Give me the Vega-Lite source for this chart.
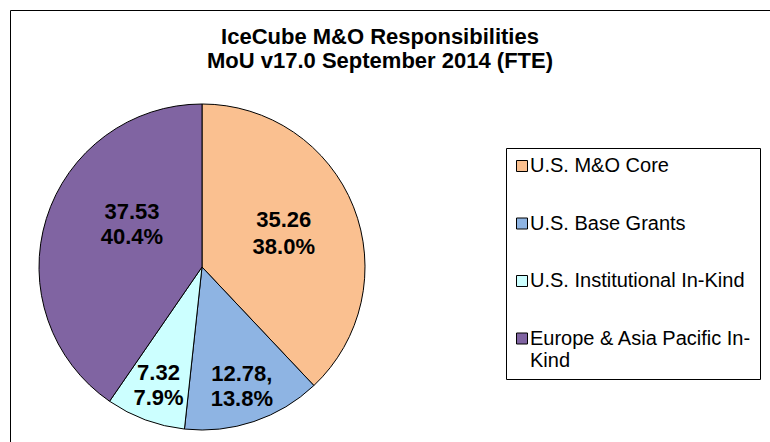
{
  "$schema": "https://vega.github.io/schema/vega-lite/v6.json",
  "width": 760,
  "height": 432,
  "autosize": {"type": "none"},
  "padding": {"left": 10, "top": 10, "right": 0, "bottom": 0},
  "background": "white",
  "view": {"stroke": "#000000", "strokeWidth": 1, "fill": "white"},
  "title": {
    "text": ["IceCube M&O Responsibilities", "MoU v17.0 September 2014 (FTE)"],
    "font": "Liberation Sans",
    "fontSize": 22,
    "fontWeight": "bold",
    "color": "#000000",
    "lineHeight": 24,
    "anchor": "middle",
    "frame": "group",
    "offset": 0,
    "dx": -10,
    "dy": 63
  },
  "config": {
    "view": {"stroke": "#000000", "strokeWidth": 1},
    "style": {"view": {"stroke": "#000000", "strokeWidth": 1}},
    "font": "Liberation Sans"
  },
  "data": {
    "values": [
      {"source": "U.S. M&O Core", "fte": 35.26, "label": "35.26\n38.0%", "i": 1},
      {"source": "U.S. Base Grants", "fte": 12.78, "label": "12.78,\n13.8%", "i": 2},
      {"source": "U.S. Institutional In-Kind", "fte": 7.32, "label": "7.32\n7.9%", "i": 3},
      {"source": "Europe & Asia Pacific In-Kind", "fte": 37.53, "label": "37.53\n40.4%", "i": 4}
    ]
  },
  "encoding": {
    "theta": {"field": "fte", "type": "quantitative", "stack": true},
    "order": {"field": "i", "type": "quantitative"}
  },
  "layer": [
    {
      "mark": {"type": "arc", "radius": 163, "x": 192, "y": 257, "stroke": "#000000", "strokeWidth": 1},
      "encoding": {
        "color": {
          "field": "source",
          "type": "nominal",
          "scale": {
            "domain": ["U.S. M&O Core", "U.S. Base Grants", "U.S. Institutional In-Kind", "Europe & Asia Pacific In-Kind"],
            "range": ["#FAC090", "#8EB4E3", "#CCFFFF", "#8064A2"]
          },
          "legend": {
            "orient": "none",
            "legendX": 496,
            "legendY": 138,
            "title": null,
            "strokeColor": "#000000",
            "padding": 8,
            "labelFont": "Liberation Sans",
            "labelFontSize": 20,
            "labelColor": "#000000",
            "labelLimit": 400,
            "labelOffset": -2,
            "symbolOffset": -2,
            "symbolType": "square",
            "symbolSize": 121,
            "symbolStrokeColor": "#000000",
            "symbolStrokeWidth": 1,
            "rowPadding": 37.5,
            "labelExpr": "datum.label == 'Europe & Asia Pacific In-Kind' ? ['Europe & Asia Pacific In-', 'Kind'] : datum.label"
          }
        }
      }
    },
    {
      "mark": {"type": "text", "radius": 88, "x": 192, "y": 257, "dy": -14, "font": "Liberation Sans", "fontSize": 22, "fontWeight": "bold", "lineBreak": "\n", "lineHeight": 27, "baseline": "middle", "align": "center", "color": "#000000"},
      "encoding": {
        "text": {"condition": {"test": "datum.i == 1", "field": "label"}, "value": ""}
      }
    },
    {
      "mark": {"type": "text", "radius": 88, "x": 192, "y": 257, "dx": 14, "dy": -29, "font": "Liberation Sans", "fontSize": 22, "fontWeight": "bold", "lineBreak": "\n", "lineHeight": 25, "baseline": "middle", "align": "center", "color": "#000000"},
      "encoding": {
        "text": {"condition": {"test": "datum.i == 4", "field": "label"}, "value": ""}
      }
    },
    {
      "mark": {"type": "text", "radius": 125, "x": 192, "y": 257, "dy": -11, "font": "Liberation Sans", "fontSize": 22, "fontWeight": "bold", "lineBreak": "\n", "lineHeight": 25, "baseline": "middle", "align": "center", "color": "#000000"},
      "encoding": {
        "text": {"condition": {"test": "datum.i == 2 || datum.i == 3", "field": "label"}, "value": ""}
      }
    }
  ]
}
